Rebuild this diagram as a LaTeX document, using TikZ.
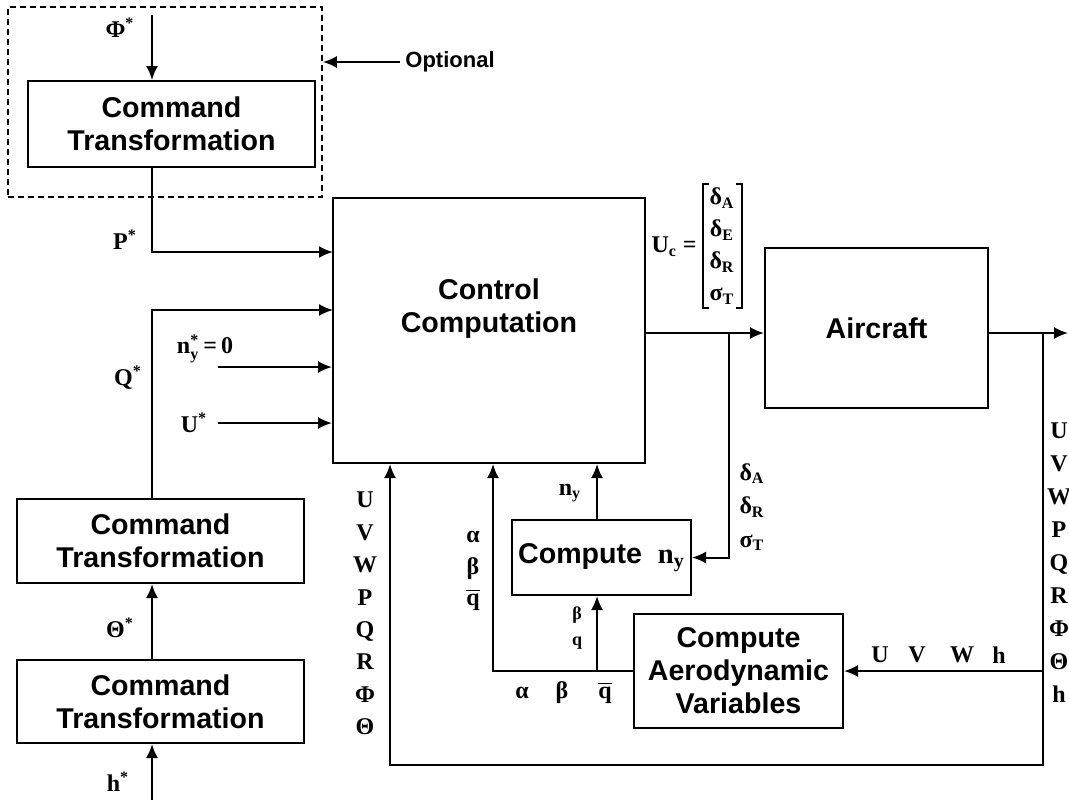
\documentclass[tikz,border=0pt]{standalone}
\usepackage{fontspec}
\usepackage{amsmath}
\setmainfont{Liberation Serif}
\newfontfamily\boxfont{Liberation Sans}
\usetikzlibrary{arrows.meta}

\newcommand{\qbar}{$\overline{\text{q}}$}

\begin{document}
\begin{tikzpicture}[x=0.5pt,y=-0.5pt,
  blk/.style={draw, line width=1pt, inner sep=0pt, align=center,
    font=\boxfont\bfseries\fontsize{14.3}{16.5}\selectfont},
  blktext/.style={inner sep=0pt, align=center,
    font=\boxfont\bfseries\fontsize{14.3}{16.5}\selectfont},
  lbl/.style={inner sep=0pt, align=center,
    font=\bfseries\fontsize{12}{14}\selectfont},
  wire/.style={line width=1pt},
  flow/.style={wire, -{Latex[length=7pt,width=6pt]}},
  optbox/.style={draw, line width=0.8pt, dash pattern=on 3pt off 2pt},
]
\useasboundingbox (0,0) rectangle (1069,800);

% ---------- blocks ----------
\node[optbox, minimum width=157pt, minimum height=95pt] (opt) at (165,102) {};
\node[blk, minimum width=143.5pt, minimum height=43pt] (ct1) at (171.5,124) {Command\\Transformation};
\node[blk, minimum width=143.5pt, minimum height=42pt] (ct2) at (160.5,541) {Command\\Transformation};
\node[blk, minimum width=143.5pt, minimum height=41.5pt] (ct3) at (160.5,701.5) {Command\\Transformation};
\node[blk, minimum width=156pt, minimum height=132.5pt] (ctrl) at (489,330.5) {};
\node[blktext] (ctrltxt) at (489,309) {Control\\Computation};
\node[blk, minimum width=111.5pt, minimum height=80pt] (acft) at (876.5,328) {Aircraft};
\node[blk, minimum width=89.5pt, minimum height=37.5pt] (cny) at (601.5,557.5)
  {Compute\ \ {\rmfamily n\textsubscript{y}}};
\node[blk, minimum width=104.5pt, minimum height=57pt] (aero) at (738.5,671)
  {Compute\\Aerodynamic\\Variables};

% ---------- free ends and junctions ----------
\coordinate (phitop) at (152,15);
\coordinate (pjoin) at (333,252);
\coordinate (qjoin) at (333,310);
\coordinate (nstart) at (218,367);
\coordinate (ustart) at (218,423);
\coordinate (hbot) at (152,800);
\coordinate (optstart) at (400,62);
\coordinate (ubr) at (729,333);
\coordinate (ybr) at (1043,333);
\coordinate (yout) at (1068,333);
\coordinate (fbl) at (390,765);
\coordinate (abq) at (493,671);
\coordinate (bq) at (597,671);

% ---------- connectors ----------
\draw[flow] (phitop) -- (phitop |- ct1.north);
\draw[flow] (phitop |- ct1.south) |- (pjoin);
\draw[flow] (phitop |- ct2.north) |- (qjoin);
\draw[flow] (nstart) -- (nstart -| ctrl.west);
\draw[flow] (ustart) -- (ustart -| ctrl.west);
\draw[flow] (phitop |- ct3.north) -- (phitop |- ct2.south);
\draw[flow] (hbot) -- (hbot |- ct3.south);
\draw[flow] (optstart) -- (optstart -| opt.east);

\draw[flow] (ctrl.east |- ubr) -- (ubr -| acft.west);
\draw[flow] (ubr) |- (cny.east);
\draw[flow] (acft.east |- yout) -- (yout);
\draw[flow] (ybr) |- (fbl) -- (fbl |- ctrl.south);
\draw[flow] (ybr |- aero.east) -- (aero.east);
\draw[flow] (aero.west) -| (abq |- ctrl.south);
\draw[flow] (bq) -- (bq |- cny.south);
\draw[flow] (bq |- cny.north) -- (bq |- ctrl.south);

% ---------- labels ----------
\node[anchor=west, inner sep=0pt, font=\boxfont\bfseries\fontsize{11}{13}\selectfont]
  (optlbl) at (405,62) {Optional};
\node[lbl] (phis) at (120,28) {Φ\textsuperscript{*}};
\node[lbl] (ps) at (125,240) {P\textsuperscript{*}};
\node[lbl] (qs) at (128,378) {Q\textsuperscript{*}};
\node[lbl] (ths) at (120,628) {Θ\textsuperscript{*}};
\node[lbl] (hs) at (118,782) {h\textsuperscript{*}};
\node[lbl] (nys) at (205,349) {$\text{n}^{\text{*}}_{\text{y}}$\,=\,0};
\node[lbl] (us) at (194,423) {U\textsuperscript{*}};

\node[lbl, anchor=east] (uc) at (697,247) {U\textsubscript{c} =};
\node[lbl, font=\bfseries\fontsize{12}{16}\selectfont] (ucv) at (722,246)
  {δ\textsubscript{A}\\δ\textsubscript{E}\\δ\textsubscript{R}\\σ\textsubscript{T}};
\draw[wire] (709,184) -- (703,184) -- (703,308) -- (709,308);
\draw[wire] (736,184) -- (742,184) -- (742,308) -- (736,308);

\node[lbl, font=\bfseries\fontsize{12}{16.75}\selectfont] (dlist) at (752,507)
  {δ\textsubscript{A}\\δ\textsubscript{R}\\σ\textsubscript{T}};
\node[lbl] (nyo) at (570,493) {n\textsubscript{y}};
\node[lbl, font=\bfseries\fontsize{12}{15.75}\selectfont] (abql) at (473,571)
  {α\\β\\\qbar};
\node[lbl, font=\bfseries\fontsize{9}{13}\selectfont] (bql) at (577,628) {β\\q};
\node[lbl] (ra) at (522,693) {α};
\node[lbl] (rb) at (562,693) {β};
\node[lbl] (rq) at (605,693) {\qbar};

\node[lbl, font=\bfseries\fontsize{12}{16.2}\selectfont] (lvars) at (365,613.5)
  {U\\V\\W\\P\\Q\\R\\Φ\\Θ};
\node[lbl, font=\bfseries\fontsize{12}{16.5}\selectfont] (rvars) at (1059,563)
  {U\\V\\W\\P\\Q\\R\\Φ\\Θ\\h};
\node[lbl] (au) at (880,655) {U};
\node[lbl] (av) at (917,655) {V};
\node[lbl] (aw) at (962,655) {W};
\node[lbl] (ah) at (999,655) {h};
\end{tikzpicture}
\end{document}
